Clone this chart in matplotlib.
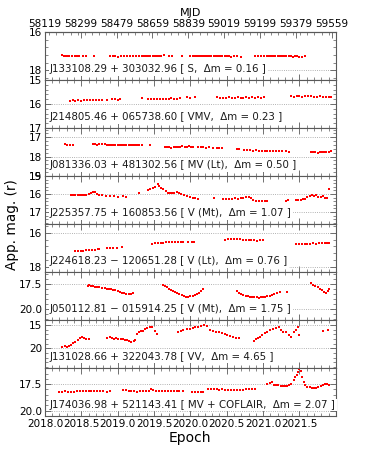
import matplotlib
matplotlib.use("Agg")
import matplotlib.pyplot as plt
from matplotlib.ticker import MultipleLocator, AutoMinorLocator, FixedLocator
import numpy as np

# ---------------- data ----------------
labels = [
    "J133108.29 + 303032.96 [ S,  Δm = 0.16 ]",
    "J214805.46 + 065738.60 [ VMV,  Δm = 0.23 ]",
    "J081336.03 + 481302.56 [ MV (Lt),  Δm = 0.50 ]",
    "J225357.75 + 160853.56 [ V (Mt),  Δm = 1.07 ]",
    "J224618.23 − 120651.28 [ V (Lt),  Δm = 0.76 ]",
    "J050112.81 − 015914.25 [ V (Mt),  Δm = 1.75 ]",
    "J131028.66 + 322043.78 [ VV,  Δm = 4.65 ]",
    "J174036.98 + 521143.41 [ MV + COFLAIR,  Δm = 2.07 ]",
]

t1 = [2018.24, 2018.26, 2018.28, 2018.30, 2018.33, 2018.37, 2018.41, 2018.44, 2018.47, 2018.52, 2018.56, 2018.68,
      2018.89, 2018.93, 2018.97, 2019.01, 2019.05, 2019.09, 2019.13, 2019.17, 2019.21, 2019.25, 2019.29, 2019.33,
      2019.36, 2019.39, 2019.42, 2019.45, 2019.48, 2019.51, 2019.54, 2019.57, 2019.60, 2019.64, 2019.70, 2019.75,
      2019.88,
      2020.00, 2020.03, 2020.05, 2020.08, 2020.10, 2020.13, 2020.15, 2020.18, 2020.20, 2020.23, 2020.26, 2020.29,
      2020.32, 2020.35, 2020.38, 2020.41, 2020.44, 2020.47, 2020.50, 2020.53, 2020.56, 2020.60, 2020.64, 2020.69,
      2020.89, 2020.93, 2020.97, 2021.01, 2021.05, 2021.08, 2021.11, 2021.14, 2021.17, 2021.20, 2021.23, 2021.26,
      2021.29, 2021.32, 2021.35, 2021.38, 2021.41, 2021.44, 2021.47, 2021.50, 2021.54, 2021.58]
m1 = [17.22, 17.25, 17.24, 17.26, 17.27, 17.26, 17.25, 17.27, 17.26, 17.27, 17.25, 17.26,
      17.27, 17.25, 17.26, 17.28, 17.25, 17.26, 17.27, 17.26, 17.25, 17.27, 17.26, 17.24,
      17.26, 17.25, 17.27, 17.25, 17.26, 17.24, 17.25, 17.23, 17.24, 17.22, 17.25, 17.23,
      17.27,
      17.25, 17.24, 17.26, 17.23, 17.25, 17.24, 17.27, 17.25, 17.24, 17.26, 17.25, 17.27,
      17.24, 17.26, 17.25, 17.23, 17.25, 17.27, 17.24, 17.26, 17.28, 17.27, 17.26, 17.28,
      17.25, 17.27, 17.26, 17.26, 17.25, 17.27, 17.24, 17.26, 17.25, 17.27, 17.26, 17.24,
      17.25, 17.26, 17.27, 17.25, 17.28, 17.26, 17.27, 17.29, 17.28, 17.27]

t2 = [2018.34, 2018.38, 2018.42, 2018.46, 2018.50, 2018.54, 2018.58, 2018.62, 2018.66, 2018.70, 2018.74, 2018.79,
      2018.86, 2018.92, 2018.96, 2019.00, 2019.03,
      2019.33, 2019.42, 2019.46, 2019.50, 2019.54, 2019.58, 2019.62, 2019.66, 2019.70, 2019.74, 2019.78, 2019.82,
      2019.86, 2019.95, 2020.00, 2020.06,
      2020.37, 2020.41, 2020.45, 2020.49, 2020.53, 2020.57, 2020.61, 2020.65, 2020.69, 2020.73, 2020.77, 2020.81,
      2020.85, 2020.89, 2020.93, 2020.97, 2021.01,
      2021.38, 2021.42, 2021.46, 2021.50, 2021.54, 2021.58, 2021.62, 2021.66, 2021.70, 2021.74, 2021.78, 2021.82,
      2021.86, 2021.90, 2021.93]
m2 = [15.86, 15.85, 15.87, 15.85, 15.86, 15.84, 15.85, 15.84, 15.83, 15.85, 15.84, 15.83,
      15.84, 15.81, 15.79, 15.82, 15.80,
      15.77, 15.80, 15.79, 15.81, 15.80, 15.78, 15.79, 15.80, 15.78, 15.77, 15.79, 15.78,
      15.76, 15.72, 15.74, 15.71,
      15.70, 15.73, 15.74, 15.73, 15.72, 15.74, 15.73, 15.72, 15.73, 15.74, 15.72, 15.73,
      15.72, 15.73, 15.71, 15.73, 15.72,
      15.68, 15.69, 15.67, 15.68, 15.69, 15.68, 15.67, 15.68, 15.70, 15.69, 15.68, 15.70,
      15.69, 15.70, 15.69]

t3 = [2018.28, 2018.31, 2018.35, 2018.38,
      2018.66, 2018.69, 2018.72, 2018.75, 2018.78,
      2018.82, 2018.85, 2018.88, 2018.91, 2018.94, 2018.97, 2019.00, 2019.03, 2019.06, 2019.09, 2019.12, 2019.15,
      2019.18, 2019.21, 2019.24, 2019.27, 2019.30, 2019.34, 2019.44,
      2019.65, 2019.68, 2019.71, 2019.74, 2019.77, 2019.80, 2019.83, 2019.86, 2019.89, 2019.92, 2019.95, 2019.98,
      2020.01, 2020.04, 2020.10, 2020.14, 2020.18, 2020.22, 2020.26, 2020.31, 2020.36, 2020.40, 2020.44,
      2020.64, 2020.67,
      2020.74, 2020.78, 2020.82, 2020.86, 2020.90, 2020.94, 2020.98, 2021.02, 2021.06, 2021.10, 2021.14, 2021.18,
      2021.22, 2021.26, 2021.31, 2021.35,
      2021.66, 2021.69, 2021.72, 2021.75, 2021.78, 2021.81, 2021.84, 2021.87, 2021.90, 2021.93]
m3 = [17.37, 17.39, 17.40, 17.41,
      17.37, 17.36, 17.38, 17.37, 17.36,
      17.37, 17.39, 17.38, 17.40, 17.39, 17.41, 17.42, 17.40, 17.41, 17.39, 17.40, 17.42,
      17.41, 17.40, 17.42, 17.40, 17.41, 17.39, 17.40,
      17.50, 17.52, 17.51, 17.53, 17.52, 17.50, 17.51, 17.49, 17.47, 17.49, 17.48, 17.47,
      17.49, 17.48, 17.50, 17.52, 17.51, 17.53, 17.52, 17.54, 17.53, 17.55, 17.56,
      17.60, 17.62,
      17.66, 17.68, 17.67, 17.69, 17.68, 17.70, 17.69, 17.71, 17.70, 17.72, 17.71, 17.73,
      17.72, 17.73, 17.72, 17.74,
      17.76, 17.78, 17.77, 17.79, 17.78, 17.77, 17.76, 17.75, 17.74, 17.73]

t4 = [2018.36, 2018.39, 2018.42, 2018.45, 2018.48, 2018.51, 2018.54, 2018.57, 2018.60, 2018.63, 2018.66, 2018.69,
      2018.72, 2018.75, 2018.79,
      2018.84, 2018.90, 2018.95, 2019.01, 2019.08, 2019.12,
      2019.30,
      2019.42, 2019.45, 2019.48, 2019.51, 2019.55, 2019.57, 2019.60, 2019.63, 2019.66, 2019.69, 2019.72, 2019.75,
      2019.78, 2019.81, 2019.84, 2019.87, 2019.91, 2019.95, 2019.99, 2020.03, 2020.07, 2020.10,
      2020.33,
      2020.45, 2020.49, 2020.53, 2020.57, 2020.61, 2020.65, 2020.69, 2020.73, 2020.77, 2020.80, 2020.83,
      2020.86, 2020.90, 2020.94, 2020.98, 2021.02, 2021.06,
      2021.31, 2021.34,
      2021.45, 2021.48, 2021.52, 2021.55, 2021.58, 2021.61, 2021.64, 2021.67, 2021.70, 2021.73, 2021.76, 2021.79,
      2021.82, 2021.85, 2021.88, 2021.91]
m4 = [16.08, 16.06, 16.07, 16.05, 16.08, 16.06, 16.04, 16.07, 16.03, 15.95, 15.88, 15.90,
      15.98, 16.05, 16.08,
      16.10, 16.14, 16.12, 16.16, 16.13, 16.18,
      15.92,
      15.78, 15.72, 15.68, 15.63, 15.42, 15.55, 15.65, 15.74, 15.82, 15.93, 15.96, 15.92,
      15.94, 15.89, 15.95, 16.03, 16.08, 16.12, 16.15, 16.20, 16.24, 16.26,
      16.22,
      16.27, 16.29, 16.28, 16.26, 16.24, 16.27, 16.20, 16.22, 16.19, 16.15, 16.24,
      16.36, 16.39, 16.40, 16.38, 16.41, 16.40,
      16.37, 16.35,
      16.34, 16.32, 16.33, 16.30, 16.28, 16.18, 16.10, 16.07, 16.12, 16.08, 16.15, 16.18,
      16.14, 16.20, 16.22, 15.75]

t5 = [2018.41, 2018.45, 2018.49, 2018.53, 2018.57, 2018.61, 2018.65, 2018.69, 2018.73, 2018.75,
      2018.86, 2018.90, 2018.94, 2018.99,
      2019.06,
      2019.47, 2019.51, 2019.55, 2019.59, 2019.63, 2019.67, 2019.71, 2019.75, 2019.79, 2019.83, 2019.87, 2019.90,
      2019.97, 2020.02, 2020.05,
      2020.48, 2020.52, 2020.56, 2020.60, 2020.64, 2020.68, 2020.72, 2020.76, 2020.80, 2020.84, 2020.88, 2020.92,
      2020.96, 2021.00,
      2021.45, 2021.49, 2021.53, 2021.57, 2021.61, 2021.65, 2021.69, 2021.73, 2021.77, 2021.81, 2021.85, 2021.88,
      2021.91]
m5 = [17.07, 17.06, 17.05, 17.04, 17.02, 17.01, 17.00, 16.98, 16.97, 16.95,
      16.91, 16.90, 16.89, 16.89,
      16.84,
      16.65, 16.62, 16.61, 16.60, 16.58, 16.57, 16.56, 16.55, 16.54, 16.53, 16.52, 16.53,
      16.56, 16.55, 16.52,
      16.40, 16.39, 16.38, 16.37, 16.38, 16.39, 16.41, 16.42, 16.43, 16.44, 16.45, 16.46,
      16.45, 16.44,
      16.63, 16.64, 16.63, 16.64, 16.63, 16.64, 16.62, 16.63, 16.62, 16.61, 16.62, 16.60,
      16.58]

t6 = [2018.59, 2018.61, 2018.63, 2018.66, 2018.69, 2018.72, 2018.75, 2018.78,
      2018.82, 2018.85, 2018.88, 2018.91, 2018.94, 2018.97, 2019.00, 2019.03,
      2019.06, 2019.09, 2019.12, 2019.15, 2019.18, 2019.21,
      2019.62, 2019.65, 2019.68, 2019.70, 2019.73, 2019.76, 2019.79, 2019.82, 2019.85, 2019.88, 2019.91, 2019.94,
      2019.97, 2020.00, 2020.03, 2020.06, 2020.09, 2020.12, 2020.15, 2020.18,
      2020.64, 2020.67, 2020.70, 2020.73, 2020.76, 2020.79, 2020.82, 2020.85, 2020.88, 2020.91, 2020.94, 2020.97,
      2021.00, 2021.03, 2021.06, 2021.09, 2021.12, 2021.15, 2021.19, 2021.23, 2021.33,
      2021.66, 2021.69, 2021.72, 2021.75, 2021.78, 2021.81, 2021.84, 2021.87, 2021.89, 2021.91]
m6 = [17.68, 17.62, 17.66, 17.70, 17.74, 17.78, 17.80, 17.84,
      17.92, 17.97, 18.02, 18.00, 18.08, 18.12, 18.18, 18.25,
      18.35, 18.42, 18.48, 18.52, 18.50, 18.40,
      17.62, 17.70, 17.80, 17.95, 18.05, 18.15, 18.25, 18.33, 18.45, 18.58, 18.68, 18.74,
      18.80, 18.72, 18.68, 18.55, 18.45, 18.35, 18.20, 18.00,
      18.15, 18.35, 18.50, 18.62, 18.68, 18.72, 18.78, 18.80, 18.82, 18.78, 18.84, 18.80,
      18.78, 18.75, 18.72, 18.70, 18.62, 18.50, 18.40, 18.32, 18.30,
      17.40, 17.55, 17.68, 17.80, 18.00, 18.10, 18.25, 18.40, 18.20, 17.97]

t7 = [2018.24, 2018.27, 2018.30, 2018.33, 2018.36, 2018.39, 2018.42, 2018.45, 2018.48, 2018.51, 2018.54, 2018.57,
      2018.61,
      2018.86, 2018.89, 2018.92, 2018.95, 2018.98, 2019.01, 2019.04, 2019.07, 2019.10, 2019.13, 2019.16, 2019.19,
      2019.22, 2019.24,
      2019.26, 2019.29, 2019.32, 2019.35, 2019.38, 2019.41, 2019.44, 2019.47, 2019.51, 2019.54,
      2019.83, 2019.87, 2019.90, 2019.95, 2019.99, 2020.03, 2020.07, 2020.11, 2020.15, 2020.19, 2020.23, 2020.27,
      2020.31, 2020.35, 2020.39, 2020.43, 2020.47, 2020.51, 2020.55, 2020.59, 2020.63, 2020.67,
      2020.87, 2020.90, 2020.93, 2020.96, 2020.99, 2021.02, 2021.06, 2021.10, 2021.14, 2021.18, 2021.22, 2021.25,
      2021.28, 2021.31, 2021.35, 2021.38,
      2021.42, 2021.45, 2021.48, 2021.50,
      2021.83, 2021.89]
m7 = [19.65, 19.60, 19.62, 19.45, 19.35, 18.90, 18.55, 18.20, 17.90, 17.55, 17.85, 17.95,
      18.05,
      17.70, 17.65, 17.80, 17.95, 17.85, 18.05, 17.95, 18.10, 18.20, 18.30, 18.50, 18.70,
      18.45, 18.20,
      16.90, 16.50, 16.40, 16.20, 15.95, 15.75, 15.55, 15.50, 16.40, 16.90,
      16.60, 16.20, 16.05, 15.90, 15.80, 15.70, 15.55, 15.45, 15.30, 15.05, 15.25, 16.00,
      16.20, 16.45, 16.60, 16.75, 16.90, 17.10, 17.30, 17.50, 17.70, 17.85,
      18.35, 18.10, 17.80, 17.50, 17.15, 16.80, 16.45, 16.10, 15.90, 15.60, 15.50, 16.10,
      16.45, 16.60, 17.10, 17.50,
      16.60, 16.00, 15.40, 17.15,
      16.20, 16.15]

t8 = [2018.20, 2018.24, 2018.28, 2018.32, 2018.36, 2018.40, 2018.44, 2018.48, 2018.52, 2018.56, 2018.60, 2018.64,
      2018.68, 2018.72, 2018.76, 2018.80,
      2018.86, 2018.89,
      2019.07, 2019.11, 2019.15, 2019.19, 2019.23, 2019.27, 2019.31, 2019.35, 2019.39, 2019.43, 2019.46, 2019.49,
      2019.53, 2019.57, 2019.61, 2019.65, 2019.69, 2019.73, 2019.77, 2019.81, 2019.85, 2019.90,
      2020.02, 2020.06, 2020.10, 2020.14, 2020.18,
      2020.24, 2020.28, 2020.32, 2020.36, 2020.40, 2020.44, 2020.48, 2020.52, 2020.56, 2020.60, 2020.64, 2020.68,
      2020.72, 2020.76, 2020.80, 2020.85, 2020.89,
      2021.06, 2021.09, 2021.12, 2021.15, 2021.18, 2021.21, 2021.24, 2021.27, 2021.30, 2021.33, 2021.36, 2021.39,
      2021.42, 2021.44, 2021.46, 2021.48, 2021.50, 2021.52, 2021.54, 2021.56, 2021.58, 2021.61, 2021.64, 2021.67,
      2021.70, 2021.73, 2021.76, 2021.79, 2021.82, 2021.85, 2021.88, 2021.90]
m8 = [18.20, 18.21, 18.19, 18.20, 18.22, 18.20, 18.18, 18.19, 18.17, 18.18, 18.16, 18.17,
      18.15, 18.18, 18.17, 18.19,
      18.20, 18.18,
      18.02, 18.08, 18.13, 18.16, 18.18, 18.20, 18.19, 18.18, 18.17, 18.15, 17.95, 18.08,
      18.14, 18.16, 18.15, 18.17, 18.16, 18.18, 18.17, 18.19, 18.18, 18.16,
      18.22, 18.25, 18.28, 18.24, 18.20,
      18.00, 17.96, 17.92, 17.98, 18.02, 18.00, 18.03, 18.05, 18.02, 18.04, 18.01, 18.03,
      18.02, 18.00, 17.99, 18.00, 17.98,
      17.45, 17.38, 17.30, 17.55, 17.62, 17.58, 17.66, 17.70, 17.68, 17.64, 17.60, 17.50,
      17.15, 16.80, 16.60, 16.30, 16.10, 16.25, 16.80, 17.30, 17.60, 17.75, 17.80, 17.85,
      17.86, 17.84, 17.80, 17.70, 17.62, 17.50, 17.45, 17.55]

times = [t1, t2, t3, t4, t5, t6, t7, t8]
mags = [m1, m2, m3, m4, m5, m6, m7, m8]

ylims = [(18.5, 16.0), (17.0, 15.0), (19.0, 16.52), (17.67, 15.0),
         (18.27, 15.5), (21.07, 16.27), (24.2, 13.93), (20.5, 15.96)]
ymajor = [2, 1, 1, 1, 2, 2.5, 5, 2.5]

epoch_ticks = [2018.0, 2018.5, 2019.0, 2019.5, 2020.0, 2020.5, 2021.0, 2021.5]
mjd_ticks = [58119, 58299, 58479, 58659, 58839, 59019, 59199, 59379, 59559]

# ---------------- figure ----------------
fig = plt.figure(figsize=(3.74, 4.71), dpi=100)
gs = fig.add_gridspec(8, 1, left=0.12, right=0.898, top=0.932, bottom=0.117, hspace=0)
axes = [fig.add_subplot(gs[i]) for i in range(8)]

def ep2mjd(e):
    return 58119 + (np.asarray(e) - 2018.0) * 365.25

def mjd2ep(m):
    return 2018.0 + (np.asarray(m) - 58119) / 365.25

edge = '0.35'
for i, ax in enumerate(axes):
    ax.plot(times[i], mags[i], 's', color='red', ms=1.8, mew=0, ls='none')
    ax.set_xlim(2018.0, 2022.0)
    ax.set_ylim(*ylims[i])
    ax.yaxis.set_major_locator(MultipleLocator(ymajor[i]))
    ax.yaxis.set_minor_locator(AutoMinorLocator(5))
    ax.xaxis.set_major_locator(FixedLocator(epoch_ticks + [2022.0]))
    ax.xaxis.set_minor_locator(MultipleLocator(0.1))
    ax.yaxis.grid(True, ls=':', color='0.6', lw=0.6)
    ax.tick_params(which='both', direction='in', top=(i != 0), right=True,
                   labelsize=7.5, color=edge, pad=2)
    ax.tick_params(which='major', length=4, width=0.6)
    ax.tick_params(which='minor', length=2, width=0.5)
    for s in ax.spines.values():
        s.set_color(edge)
        s.set_linewidth(0.8)
    ax.text(0.017, 0.22, labels[i], transform=ax.transAxes, fontsize=7.4,
            ha='left', va='center', color='0.1',
            bbox=dict(facecolor='white', edgecolor='none', pad=0.8), zorder=5)
    if i < 7:
        ax.tick_params(labelbottom=False)
    else:
        ax.set_xticks(epoch_ticks + [2022.0])
        ax.set_xticklabels([f"{v:.1f}" for v in epoch_ticks] + [""])

sec = axes[0].secondary_xaxis('top', functions=(ep2mjd, mjd2ep))
sec.set_xticks(mjd_ticks)
sec.set_xticklabels([str(v) for v in mjd_ticks])
sec.xaxis.set_minor_locator(MultipleLocator(36))
sec.tick_params(which='both', direction='in', labelsize=7.5, color=edge, pad=2)
sec.tick_params(which='major', length=4, width=0.6)
sec.tick_params(which='minor', length=2, width=0.5)
sec.spines['top'].set_color(edge)
sec.set_xlabel('MJD', fontsize=8, labelpad=2)

axes[7].set_xlabel('Epoch', fontsize=10, labelpad=2)
fig.text(0.033, 0.524, 'App. mag. (r)', rotation=90, fontsize=9.8,
         ha='center', va='center')

fig.savefig('out.png', dpi=100)
